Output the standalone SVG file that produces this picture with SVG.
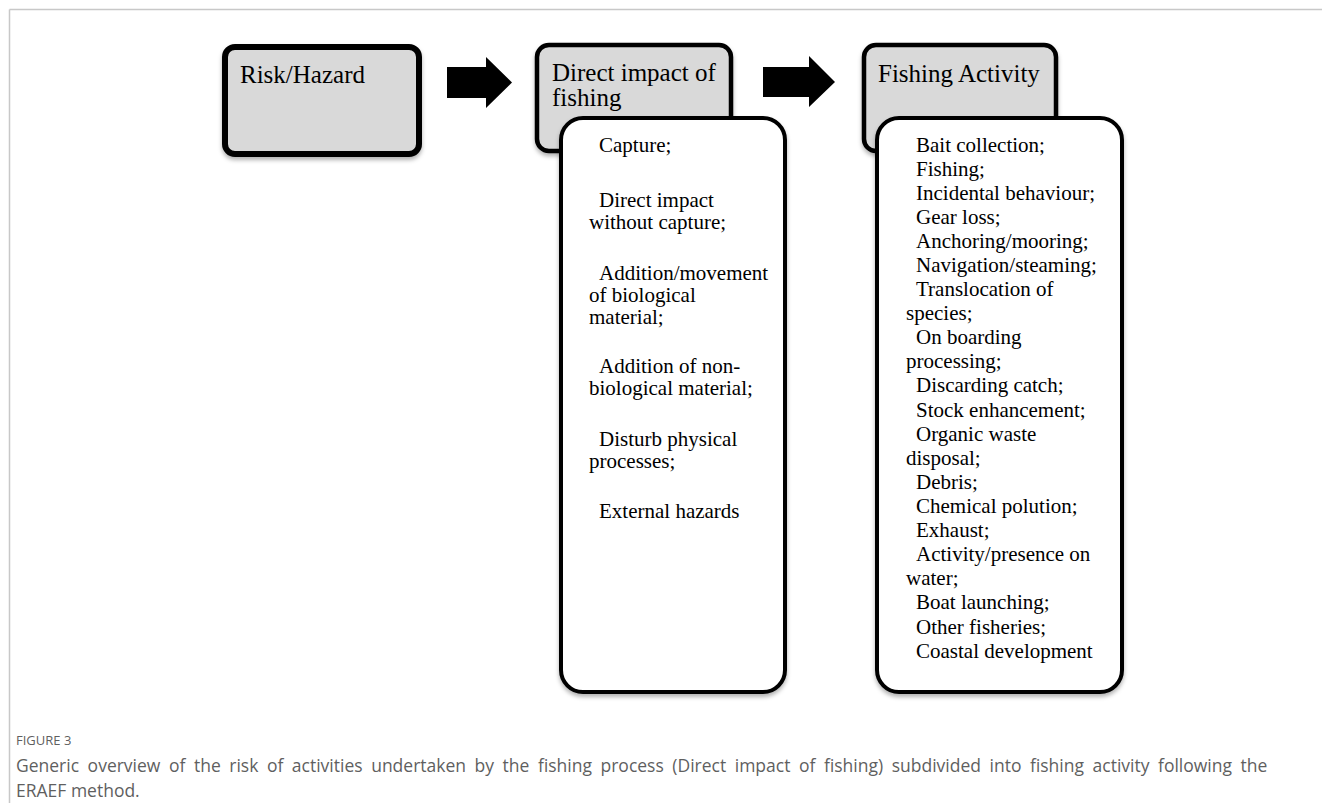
<svg xmlns="http://www.w3.org/2000/svg" width="1322" height="803" viewBox="0 0 1322 803">
<style>
.t{font-family:"Liberation Serif","Times New Roman",serif;fill:#000}
.h{font-size:25px}
.b{font-size:21px}
.grey{fill:#d9d9d9;stroke:#000}
.white{fill:#fff;stroke:#000;stroke-width:4}
.arrow{fill:#000}
.cap{font-family:"Open Sans","Noto Sans",sans-serif;fill:#5f5f5f}
</style>
<defs>
<filter id="sh" x="-10%" y="-10%" width="120%" height="130%">
<feDropShadow dx="0" dy="3" stdDeviation="2" flood-color="#000" flood-opacity="0.3"/>
</filter>
</defs>
<rect width="1322" height="803" fill="#fff"/>
<g id="frame">
<line x1="9.5" y1="9.5" x2="1322" y2="9.5" stroke="#c8c8c8" stroke-width="1.5"/>
<line x1="9.5" y1="9.5" x2="9.5" y2="803" stroke="#c8c8c8" stroke-width="1.5"/>
</g>
<g id="risk">
<rect class="grey" x="225" y="47" width="194" height="107" rx="10" stroke-width="6" filter="url(#sh)"/>
<text class="t h" x="240" y="83">Risk/Hazard</text>
</g>
<g id="direct">
<rect class="grey" x="537" y="45" width="194" height="106" rx="12" stroke-width="4.5" filter="url(#sh)"/>
<text class="t h" x="552" y="81">Direct impact of</text>
<text class="t h" x="552" y="106">fishing</text>
</g>
<g id="direct-list">
<rect class="white" x="561" y="118" width="224" height="574" rx="22" filter="url(#sh)"/>
<text class="t b">
<tspan x="599" y="152">Capture;</tspan>
<tspan x="599" y="207">Direct impact</tspan>
<tspan x="589" y="229">without capture;</tspan>
<tspan x="599" y="280">Addition/movement</tspan>
<tspan x="589" y="302">of biological</tspan>
<tspan x="589" y="324">material;</tspan>
<tspan x="599" y="373">Addition of non-</tspan>
<tspan x="589" y="395">biological material;</tspan>
<tspan x="599" y="446">Disturb physical</tspan>
<tspan x="589" y="468">processes;</tspan>
<tspan x="599" y="518">External hazards</tspan>
</text>
</g>
<g id="activity">
<rect class="grey" x="864" y="45" width="192" height="106" rx="12" stroke-width="4.5" filter="url(#sh)"/>
<text class="t h" x="878" y="82">Fishing Activity</text>
</g>
<g id="activity-list">
<rect class="white" x="877" y="118" width="245" height="574" rx="22" filter="url(#sh)"/>
<text class="t b">
<tspan x="916" y="152">Bait collection;</tspan>
<tspan x="916" y="176">Fishing;</tspan>
<tspan x="916" y="200">Incidental behaviour;</tspan>
<tspan x="916" y="224">Gear loss;</tspan>
<tspan x="916" y="248">Anchoring/mooring;</tspan>
<tspan x="916" y="272">Navigation/steaming;</tspan>
<tspan x="916" y="296">Translocation of</tspan>
<tspan x="906" y="320">species;</tspan>
<tspan x="916" y="344">On boarding</tspan>
<tspan x="906" y="368">processing;</tspan>
<tspan x="916" y="392">Discarding catch;</tspan>
<tspan x="916" y="417">Stock enhancement;</tspan>
<tspan x="916" y="441">Organic waste</tspan>
<tspan x="906" y="465">disposal;</tspan>
<tspan x="916" y="489">Debris;</tspan>
<tspan x="916" y="513">Chemical polution;</tspan>
<tspan x="916" y="537">Exhaust;</tspan>
<tspan x="916" y="561">Activity/presence on</tspan>
<tspan x="906" y="585">water;</tspan>
<tspan x="916" y="609">Boat launching;</tspan>
<tspan x="916" y="634">Other fisheries;</tspan>
<tspan x="916" y="658">Coastal development</tspan>
</text>
</g>
<g id="connectors">
<polygon class="arrow" points="447,67 486,67 486,57 512,82.5 486,108 486,98 447,98"/>
<polygon class="arrow" points="763,67 809,67 809,56 835,82 809,107 809,97 763,97"/>
</g>
<g id="caption">
<text class="cap" x="16" y="745" font-size="13">FIGURE 3</text>
<text class="cap" x="16" y="772" font-size="17.5" word-spacing="4">Generic overview of the risk of activities undertaken by the fishing process (Direct impact of fishing) subdivided into fishing activity following the</text>
<text class="cap" x="16" y="797" font-size="17.5">ERAEF method.</text>
</g>
</svg>
